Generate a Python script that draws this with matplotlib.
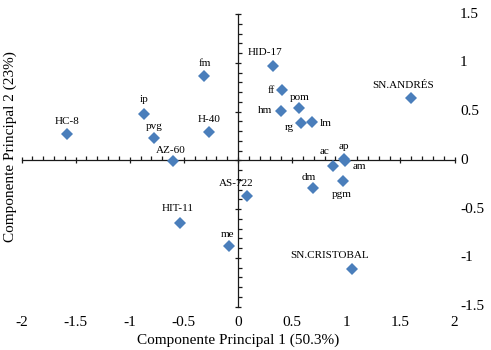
import matplotlib
matplotlib.use("Agg")
import matplotlib.pyplot as plt
from matplotlib.ticker import MultipleLocator
import matplotlib.transforms as mtransforms

plt.rcParams['font.family'] = ['Liberation Serif', 'DejaVu Serif']

labels = ["HC-8", "ip", "pvg", "AZ-60", "fm", "H-40", "HIT-11", "me", "AS-722",
          "HID-17", "ff", "hm", "pom", "rg", "lm", "ac", "ap", "am", "dm", "pgm",
          "SN.ANDRÉS", "SN.CRISTOBAL"]
pc1 = [-1.58, -0.865, -0.775, -0.60, -0.31, -0.27, -0.54, -0.085, 0.083,
       0.326, 0.41, 0.397, 0.565, 0.585, 0.686, 0.877, 0.975, 0.99, 0.695, 0.97,
       1.597, 1.052]
pc2 = [0.27, 0.48, 0.23, -0.01, 0.87, 0.29, -0.64, -0.88, -0.36,
       0.97, 0.72, 0.51, 0.535, 0.38, 0.39, -0.06, 0.01, -0.005, -0.285, -0.21,
       0.64, -1.11]
# label offsets in pixels (dx, dy)
offsets = [(0, 13), (0, 14), (0, 12), (-2, 11), (0, 12), (0, 13), (-2, 14), (-1, 12), (-11, 12),
           (-8, 13), (-11, 0), (-16, 0), (0, 11), (-12, -4), (13, -1), (-8, 15), (0, 13), (14, -6),
           (-4, 11), (-1, -14), (-8, 13), (-22, 13)]

xticks = [-2, -1.5, -1, -0.5, 0, 0.5, 1, 1.5, 2]
xticklabels = ["-2", "-1.5", "-1", "-0.5", "0", "0.5", "1", "1.5", "2"]
yticks = [-1.5, -1, -0.5, 0, 0.5, 1, 1.5]
yticklabels = ["-1.5", "-1", "-0.5", "0", "0.5", "1", "1.5"]

W, H = 491, 350
fig = plt.figure(figsize=(W / 100, H / 100), dpi=100)
ax = fig.add_axes([21.5 / W, (H - 306.7) / H, 433 / W, 292.5 / H])
ax.set_xlim(-2, 2)
ax.set_ylim(-1.5, 1.5)

color = '#4a7ebb'
ax.plot(pc1, pc2, linestyle='none', marker='D', markersize=6.2, color=color,
        markeredgewidth=0, zorder=3, clip_on=False)

px = 0.72
for lab, x, y, (dx, dy) in zip(labels, pc1, pc2, offsets):
    ax.annotate(lab, (x, y), xytext=(dx * px, dy * px), textcoords='offset points',
                ha='center', va='center', fontsize=8, color='black', zorder=4)

for s in ['top', 'right']:
    ax.spines[s].set_visible(False)
ax.spines['left'].set_position(('data', 0))
ax.spines['bottom'].set_position(('data', 0))
for s in ['left', 'bottom']:
    ax.spines[s].set_linewidth(0.9)
    ax.spines[s].set_color('#1a1a1a')

ax.xaxis.set_major_locator(MultipleLocator(0.5))
ax.xaxis.set_minor_locator(MultipleLocator(0.1))
ax.yaxis.set_major_locator(MultipleLocator(0.5))
ax.yaxis.set_minor_locator(MultipleLocator(0.1))
ax.tick_params(which='major', direction='inout', length=5, width=0.9, color='#1a1a1a',
               labelbottom=False, labelleft=False)
ax.tick_params(which='minor', direction='in', length=3, width=0.9, color='#1a1a1a')

tx = mtransforms.blended_transform_factory(ax.transData, fig.transFigure)
for v, t in zip(xticks, xticklabels):
    ax.text(v, (H - 322) / H, t, transform=tx, ha='center', va='center', fontsize=11)
ty = mtransforms.blended_transform_factory(fig.transFigure, ax.transData)
for v, t in zip(yticks, yticklabels):
    ax.text(460 / W, v, t, transform=ty, ha='left', va='center', fontsize=11)

fig.text(238 / W, (H - 340) / H, "Componente Principal 1 (50.3%)", ha='center', va='center', fontsize=11)
fig.text(10 / W, (H - 147) / H, "Componente Principal 2 (23%)", ha='center', va='center',
         rotation=90, fontsize=11)

fig.savefig("out.png", dpi=100)
